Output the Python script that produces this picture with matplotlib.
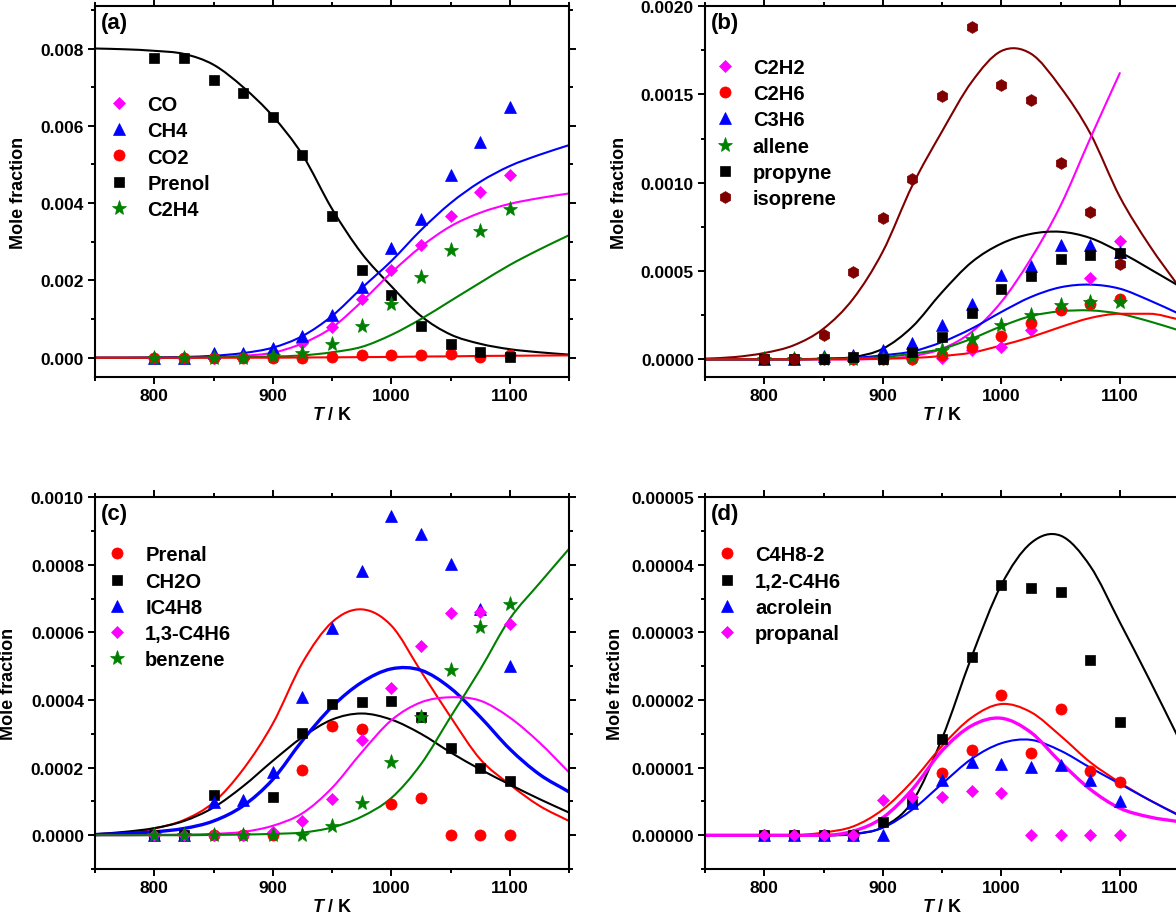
"""Prenol pyrolysis species profiles: measured mole fractions (symbols) and
model predictions (lines) vs temperature, four panels (a)-(d)."""

import numpy as np
import matplotlib

matplotlib.use('Agg')
import matplotlib.pyplot as plt
from matplotlib.path import Path
from matplotlib.patches import PathPatch
from matplotlib.ticker import MultipleLocator, FormatStrFormatter

nan = np.nan

# ----- data --------------------------------------------------------------
T_EXP = [800, 825, 850, 875, 900, 925, 950, 975, 1000, 1025, 1050, 1075, 1100]
T_FIT = [750, 775, 800, 825, 850, 875, 900, 925, 950, 975, 1000, 1025, 1050,
         1075, 1100, 1125, 1150]

# (a) values in 1e-3
A_SCALE = 1e-3
a_co = [0, 0, 0, 0.01, 0.07, 0.37, 0.80, 1.51, 2.28, 2.91, 3.66, 4.28, 4.72]
a_ch4 = [0, 0, 0.12, 0.12, 0.24, 0.55, 1.10, 1.82, 2.85, 3.60, 4.72, 5.57, 6.49]
a_co2 = [0, 0, 0, 0, 0, 0, 0.03, 0.06, 0.08, 0.08, 0.09, 0.03, 0.07]
a_prenol = [7.76, 7.76, 7.19, 6.84, 6.22, 5.24, 3.67, 2.27, 1.61, 0.82, 0.35, 0.16, 0.03]
a_c2h4 = [0, 0, 0, 0, 0.04, 0.12, 0.35, 0.82, 1.40, 2.09, 2.79, 3.27, 3.86]
a_co_fit = [0, 0, 0, 0.005, 0.02, 0.05, 0.13, 0.37, 0.78, 1.45, 2.20, 2.87, 3.40,
            3.75, 3.98, 4.13, 4.25]
a_ch4_fit = [0, 0, 0.01, 0.02, 0.05, 0.12, 0.26, 0.56, 1.08, 1.80, 2.50, 3.30, 4.00,
             4.55, 4.96, 5.25, 5.50]
a_co2_fit = [0, 0, 0, 0, 0, 0, 0, 0.005, 0.01, 0.015, 0.02, 0.03, 0.035, 0.045,
             0.05, 0.055, 0.06]
a_prenol_fit = [8.00, 7.98, 7.94, 7.86, 7.58, 7.00, 6.25, 5.25, 3.85, 2.70, 1.85,
                1.08, 0.60, 0.36, 0.22, 0.14, 0.08]
a_c2h4_fit = [0, 0, 0, 0, 0.01, 0.02, 0.03, 0.06, 0.14, 0.28, 0.59, 1.00, 1.47,
              1.94, 2.40, 2.80, 3.17]

# (b) values in 1e-4
B_SCALE = 1e-4
b_c2h2 = [0, 0, 0, 0, 0, 0, 0.08, 0.55, 0.70, 1.68, 2.87, 4.60, 6.72]
b_c2h6 = [0, 0, 0, 0, 0, 0, 0.23, 0.70, 1.30, 2.06, 2.77, 3.15, 3.43]
b_c3h6 = [0, 0, 0.19, 0.23, 0.51, 0.92, 1.92, 3.11, 4.75, 5.26, 6.45, 6.45, 6.08]
b_allene = [0, 0, 0, 0, 0, 0.13, 0.51, 1.13, 1.92, 2.49, 3.09, 3.25, 3.25]
b_propyne = [0, 0, 0, 0.13, 0, 0.42, 1.26, 2.62, 3.96, 4.70, 5.68, 5.89, 6.04]
b_isoprene = [0, 0, 1.40, 4.92, 7.98, 10.2, 14.9, 18.8, 15.5, 14.7, 11.1, 8.34, 5.38]
b_c2h2_fit = [0, 0, 0, 0, 0, 0, 0.04, 0.19, 0.60, 1.55, 3.25, 5.70, 8.70, 12.5,
              16.2, nan, nan]
b_c2h6_fit = [0, 0, 0, 0, 0, 0.01, 0.04, 0.08, 0.19, 0.38, 0.79, 1.26, 1.83, 2.34,
              2.58, 2.58, 2.26]
b_c3h6_fit = [0, 0, 0, 0, 0.03, 0.08, 0.23, 0.45, 0.98, 1.74, 2.68, 3.53, 4.08,
              4.23, 4.00, 3.34, 2.58]
b_allene_fit = [0, 0, 0, 0, 0.02, 0.05, 0.13, 0.32, 0.60, 1.17, 1.87, 2.45, 2.72,
                2.77, 2.58, 2.15, 1.64]
b_propyne_fit = [0, 0, 0, 0.01, 0.04, 0.13, 0.60, 1.85, 3.80, 5.50, 6.55, 7.10,
                 7.22, 6.87, 6.08, 5.13, 4.15]
b_isoprene_fit = [0.04, 0.13, 0.36, 0.80, 1.74, 3.43, 6.10, 9.85, 12.9, 15.7, 17.45,
                  17.3, 15.4, 12.8, 9.2, 6.45, 4.1]

# (c) values in 1e-4
C_SCALE = 1e-4
c_prenal = [0, 0, 0, 0, 0, 1.94, 3.23, 3.13, 0.92, 1.09, 0, 0, 0]
c_ch2o = [0, 0, 1.18, nan, 1.12, 3.01, 3.87, 3.95, 3.96, 3.51, 2.57, 2.00, 1.59]
c_ic4h8 = [0, 0, 0.99, 1.04, 1.86, 4.08, 6.13, 7.80, 9.44, 8.91, 8.03, 6.69, 4.99]
c_c4h6 = [0, 0, 0, 0, 0.10, 0.42, 1.07, 2.82, 4.36, 5.60, 6.58, 6.60, 6.25]
c_benzene = [0, 0, 0, 0, 0, 0.02, 0.26, 0.95, 2.17, 3.51, 4.89, 6.16, 6.85]
c_prenal_fit = [0.03, 0.08, 0.20, 0.45, 0.97, 1.95, 3.30, 5.10, 6.30, 6.68, 6.20,
                4.85, 3.50, 2.25, 1.50, 0.87, 0.42]
c_ch2o_fit = [0.03, 0.10, 0.21, 0.42, 0.82, 1.45, 2.20, 2.90, 3.42, 3.60, 3.42,
              3.00, 2.45, 1.95, 1.50, 1.07, 0.67]
c_ic4h8_fit = [0.02, 0.05, 0.10, 0.20, 0.42, 0.87, 1.65, 2.80, 3.80, 4.52, 4.92,
               4.88, 4.35, 3.50, 2.55, 1.80, 1.28]
c_c4h6_fit = [0, 0, 0.01, 0.02, 0.04, 0.10, 0.28, 0.65, 1.40, 2.45, 3.40, 3.93,
              4.08, 3.98, 3.48, 2.74, 1.86]
c_benzene_fit = [0, 0, 0, 0, 0.01, 0.02, 0.04, 0.08, 0.23, 0.55, 1.10, 2.10, 3.50,
                 4.90, 6.40, 7.45, 8.47]

# (d) values in 1e-5
D_SCALE = 1e-5
d_c4h8 = [0, 0, 0, 0, nan, nan, 0.92, 1.26, 2.08, 1.22, 1.87, 0.95, 0.79]
d_c4h6 = [0, 0, 0, 0, 0.20, 0.49, 1.43, 2.64, 3.70, 3.65, 3.59, 2.59, 1.68]
d_acrolein = [0, 0, 0, 0, 0.01, 0.47, 0.81, 1.08, 1.06, 1.01, 1.04, 0.81, 0.50]
d_propanal = [0, 0, 0, 0, 0.52, 0.56, 0.57, 0.66, 0.62, 0, 0, 0, 0]
d_c4h8_fit = [0, 0, 0, 0, 0.04, 0.13, 0.38, 0.80, 1.32, 1.74, 1.94, 1.82, 1.47,
              1.08, 0.78, 0.52, 0.30]
d_c4h6_fit = [0, 0, 0, 0, 0, 0.015, 0.12, 0.50, 1.43, 2.64, 3.70, 4.32, 4.43, 3.98,
              3.15, 2.30, 1.42]
d_acrolein_fit = [0, 0, 0, 0, 0, 0.02, 0.11, 0.38, 0.76, 1.13, 1.36, 1.41, 1.25,
                  1.00, 0.76, 0.52, 0.29]
d_propanal_fit = [0, 0, 0, 0, 0, 0.06, 0.26, 0.68, 1.25, 1.62, 1.73, 1.52, 1.08,
                  0.68, 0.40, 0.27, 0.20]

# ----- style -------------------------------------------------------------
MAGENTA, BLUE, RED = '#ff00ff', '#0000ff', '#ff0000'
BLACK, GREEN, BROWN = '#000000', '#008000', '#800000'
MK = {'D': 6.5, '^': 8, 'o': 8, 's': 6.5, '*': 11, 'h': 8.5}
LW, LW_THICK = 1.5, 2.4

# axes boxes in figure fractions (the right column runs off the canvas)
POS = {'a': [0.0808, 0.5891, 0.4031, 0.4033],
       'b': [0.5995, 0.5891, 0.4031, 0.4033],
       'c': [0.0808, 0.0543, 0.4031, 0.4043],
       'd': [0.5995, 0.0543, 0.4031, 0.4043]}

plt.rcParams['font.family'] = ['Liberation Sans', 'DejaVu Sans']
plt.rcParams['font.weight'] = 'bold'
plt.rcParams['axes.labelweight'] = 'bold'
plt.rcParams['mathtext.fontset'] = 'custom'
plt.rcParams['mathtext.it'] = 'Liberation Sans:italic:bold'
plt.rcParams['mathtext.rm'] = 'Liberation Sans:bold'


def smooth_line(ax, x, y, color, lw):
    """Model curve as a cubic Bezier path through the read-off points
    (central-difference tangents, held flat next to flat stretches)."""
    x = np.asarray(x, float)
    y = np.asarray(y, float)
    ok = np.isfinite(y)
    x, y = x[ok], y[ok]
    h = np.diff(x)
    d = np.diff(y) / h
    m = np.empty_like(y)
    m[0], m[-1] = d[0], d[-1]
    m[1:-1] = (d[:-1] + d[1:]) / 2
    for k in range(len(d)):
        if d[k] == 0:
            m[k] = m[k + 1] = 0.0
    verts = [(x[0], y[0])]
    codes = [Path.MOVETO]
    for k in range(len(h)):
        verts += [(x[k] + h[k] / 3, y[k] + m[k] * h[k] / 3),
                  (x[k + 1] - h[k] / 3, y[k + 1] - m[k + 1] * h[k] / 3),
                  (x[k + 1], y[k + 1])]
        codes += [Path.CURVE4] * 3
    ax.add_patch(PathPatch(Path(verts, codes), fill=False, edgecolor=color,
                           lw=lw, zorder=2, capstyle='round', joinstyle='round'))


def panel(fig, key, scale, points, fits, ylim, ystep, yfmt, leg_anchor, ylab_x):
    ax = fig.add_axes(POS[key])
    for vals, color, lw in fits:
        smooth_line(ax, T_FIT, np.array(vals) * scale, color, lw)
    for label, vals, color, marker in points:
        ax.plot(T_EXP, np.array(vals) * scale, linestyle='none', marker=marker,
                ms=MK[marker], color=color, mec=color, mew=0.5, label=label,
                zorder=3)

    ax.set_xlim(750, 1150)
    ax.set_ylim(*ylim)
    ax.xaxis.set_major_locator(MultipleLocator(100))
    ax.xaxis.set_minor_locator(MultipleLocator(50))
    ax.yaxis.set_major_locator(MultipleLocator(ystep))
    ax.yaxis.set_minor_locator(MultipleLocator(ystep / 2))
    ax.yaxis.set_major_formatter(FormatStrFormatter(yfmt))
    ax.tick_params(which='both', direction='out', width=1.4, labelsize=12.5,
                   top=True, right=True)
    ax.tick_params(which='major', length=5, pad=3)
    ax.tick_params(which='minor', length=3)
    for s in ax.spines.values():
        s.set_linewidth(1.5)

    ax.set_xlabel('$T$ / K', fontsize=13, labelpad=2)
    ax.set_ylabel('Mole fraction', fontsize=13)
    ax.yaxis.set_label_coords(ylab_x, 0.5)
    ax.text(0.012, 0.985, f'({key})', transform=ax.transAxes, fontsize=16,
            fontweight='bold', ha='left', va='top')
    ax.legend(loc='upper left', bbox_to_anchor=leg_anchor, frameon=False,
              fontsize=14.5, handlelength=1.0, handletextpad=0.9,
              labelspacing=0.36, borderpad=0, borderaxespad=0, numpoints=1)
    return ax


def main():
    fig = plt.figure(figsize=(11.76, 9.2), dpi=100)

    panel(fig, 'a', A_SCALE,
          [('CO', a_co, MAGENTA, 'D'), ('CH4', a_ch4, BLUE, '^'),
           ('CO2', a_co2, RED, 'o'), ('Prenol', a_prenol, BLACK, 's'),
           ('C2H4', a_c2h4, GREEN, '*')],
          [(a_prenol_fit, BLACK, LW), (a_co_fit, MAGENTA, LW),
           (a_ch4_fit, BLUE, LW), (a_c2h4_fit, GREEN, LW),
           (a_co2_fit, RED, LW)],
          (-0.0005, 0.0091), 0.002, '%.3f', (0.03, 0.76), -0.143)

    panel(fig, 'b', B_SCALE,
          [('C2H2', b_c2h2, MAGENTA, 'D'), ('C2H6', b_c2h6, RED, 'o'),
           ('C3H6', b_c3h6, BLUE, '^'), ('allene', b_allene, GREEN, '*'),
           ('propyne', b_propyne, BLACK, 's'),
           ('isoprene', b_isoprene, BROWN, 'h')],
          [(b_isoprene_fit, BROWN, LW), (b_c2h2_fit, MAGENTA, LW),
           (b_propyne_fit, BLACK, LW), (b_c3h6_fit, BLUE, LW),
           (b_allene_fit, GREEN, LW), (b_c2h6_fit, RED, LW)],
          (-0.0001, 0.0020), 0.0005, '%.4f', (0.02, 0.86), -0.162)

    panel(fig, 'c', C_SCALE,
          [('Prenal', c_prenal, RED, 'o'), ('CH2O', c_ch2o, BLACK, 's'),
           ('IC4H8', c_ic4h8, BLUE, '^'), ('1,3-C4H6', c_c4h6, MAGENTA, 'D'),
           ('benzene', c_benzene, GREEN, '*')],
          [(c_prenal_fit, RED, LW), (c_ch2o_fit, BLACK, LW),
           (c_ic4h8_fit, BLUE, LW_THICK), (c_c4h6_fit, MAGENTA, LW),
           (c_benzene_fit, GREEN, LW)],
          (-0.0001, 0.0010), 0.0002, '%.4f', (0.025, 0.87), -0.164)

    panel(fig, 'd', D_SCALE,
          [('C4H8-2', d_c4h8, RED, 'o'), ('1,2-C4H6', d_c4h6, BLACK, 's'),
           ('acrolein', d_acrolein, BLUE, '^'),
           ('propanal', d_propanal, MAGENTA, 'D')],
          [(d_c4h6_fit, BLACK, LW), (d_c4h8_fit, RED, LW),
           (d_acrolein_fit, BLUE, LW), (d_propanal_fit, MAGENTA, LW_THICK)],
          (-0.000005, 0.00005), 0.00001, '%.5f', (0.025, 0.87), -0.171)

    fig.savefig('out.png', dpi=100)
    plt.close(fig)


if __name__ == '__main__':
    main()
